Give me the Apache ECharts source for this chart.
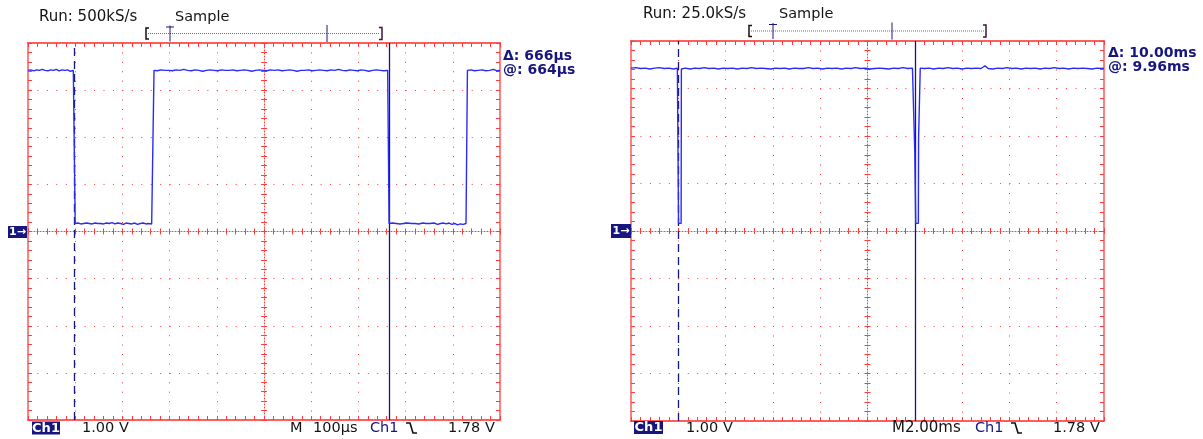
<!DOCTYPE html>
<html>
<head>
<meta charset="utf-8">
<script src="https://cdn.jsdelivr.net/npm/echarts@6/dist/echarts.min.js"></script>
<style>
  html, body { margin: 0; padding: 0; background: #ffffff; }
  #scope { width: 1203px; height: 439px; }
</style>
</head>
<body>
<div id="scope"></div>
<script>
// ---- Screen 1: 100 µs/div, 1.00 V/div (time in µs, level in V) ----
const leftTrace = [
  [0,3.42],[6,3.43],[12,3.41],[18,3.43],[24,3.42],[30,3.44],[36,3.42],[42,3.41],[48,3.43],[54,3.42],
  [60,3.44],[66,3.41],[72,3.43],[78,3.42],[84,3.43],[90,3.40],[96,3.42],[99,3.43],
  [100,0.17],[106,0.18],[112,0.16],[118,0.17],[124,0.18],[130,0.17],[136,0.16],[142,0.18],[148,0.17],
  [154,0.17],[160,0.16],[166,0.18],[172,0.17],[178,0.19],[184,0.16],[190,0.18],[196,0.17],[202,0.15],
  [208,0.18],[214,0.17],[220,0.16],[226,0.18],[232,0.15],[238,0.17],[244,0.18],[250,0.16],[256,0.17],
  [262,0.16],[266,0.17],
  [267,3.42],[274,3.41],[282,3.43],[290,3.42],[298,3.42],[306,3.41],[314,3.43],[322,3.42],[330,3.44],
  [338,3.42],[346,3.41],[354,3.43],[362,3.42],[370,3.40],[378,3.42],[386,3.43],[394,3.42],[402,3.41],
  [410,3.43],[418,3.42],[426,3.42],[434,3.43],[442,3.41],[450,3.42],[458,3.43],[466,3.42],[474,3.40],
  [482,3.42],[490,3.43],[498,3.42],[506,3.41],[514,3.43],[522,3.42],[530,3.43],[538,3.41],[546,3.42],
  [554,3.43],[562,3.42],[570,3.40],[578,3.42],[586,3.42],[594,3.43],[602,3.41],[610,3.42],[618,3.43],
  [626,3.42],[634,3.41],[642,3.43],[650,3.42],[658,3.44],[666,3.42],[674,3.41],[682,3.43],[690,3.42],
  [698,3.41],[706,3.43],[714,3.42],[722,3.40],[730,3.42],[738,3.43],[746,3.42],[754,3.41],[762,3.42],
  [764,3.42],
  [765,0.17],[772,0.18],[780,0.17],[788,0.16],[796,0.17],[804,0.18],[812,0.17],[820,0.17],[828,0.16],
  [836,0.18],[844,0.17],[852,0.17],[860,0.18],[868,0.15],[874,0.17],[880,0.18],[886,0.16],[892,0.18],
  [898,0.15],[904,0.17],[910,0.14],[916,0.16],[922,0.15],[928,0.17],[930,0.16],
  [931,3.42],[938,3.43],[946,3.41],[954,3.42],[962,3.43],[970,3.41],[978,3.42],[986,3.44],[994,3.41],
  [1000,3.42]
];
const leftCursors = [99, 765];            // µs
const leftTime = { min: 0, max: 1000, interval: 100 };
const leftHeader = ['Run: 500kS/s', 'Sample'];
const leftReadout = ['\u0394: 666\u00b5s', '@: 664\u00b5s'];
const leftFooter = ['1.00 V', 'M', '100\u00b5s', 'Ch1', '1.78 V'];

// ---- Screen 2: 2.00 ms/div, 1.00 V/div (time in ms, level in V) ----
const rightTrace = [
  [0,3.43],[0.2,3.44],[0.4,3.42],[0.6,3.43],[0.8,3.41],[1.0,3.43],[1.2,3.44],[1.4,3.42],[1.6,3.43],
  [1.8,3.41],[1.96,3.43],[2.00,3.42],
  [2.01,0.16],[2.12,0.16],
  [2.13,3.41],[2.3,3.43],[2.5,3.41],[2.7,3.43],[2.9,3.42],[3.1,3.44],[3.3,3.42],[3.5,3.43],[3.7,3.41],
  [3.9,3.43],[4.1,3.42],[4.3,3.43],[4.5,3.41],[4.7,3.43],[4.9,3.42],[5.1,3.44],[5.3,3.42],[5.5,3.43],
  [5.7,3.42],[5.9,3.41],[6.1,3.43],[6.3,3.42],[6.5,3.43],[6.7,3.41],[6.9,3.43],[7.1,3.42],[7.3,3.42],
  [7.5,3.44],[7.7,3.42],[7.9,3.43],[8.1,3.41],[8.3,3.43],[8.5,3.42],[8.7,3.43],[8.9,3.41],[9.1,3.43],
  [9.3,3.42],[9.5,3.44],[9.7,3.42],[9.9,3.43],[10.1,3.41],[10.3,3.42],[10.5,3.43],[10.7,3.42],
  [10.9,3.41],[11.1,3.43],[11.3,3.42],[11.5,3.44],[11.7,3.42],[11.9,3.43],[11.98,3.42],
  [12.00,1.65],[12.03,1.65],[12.04,0.16],[12.15,0.16],[12.16,1.96],[12.22,1.96],[12.23,3.43],
  [12.4,3.42],[12.6,3.43],[12.8,3.41],[13.0,3.43],[13.2,3.42],[13.4,3.44],[13.6,3.42],[13.8,3.43],
  [14.0,3.41],[14.2,3.43],[14.4,3.42],[14.6,3.43],[14.8,3.42],[14.97,3.48],[15.1,3.42],[15.3,3.41],
  [15.5,3.43],[15.7,3.42],[15.9,3.44],[16.1,3.42],[16.3,3.43],[16.5,3.41],[16.7,3.43],[16.9,3.42],
  [17.1,3.43],[17.3,3.41],[17.5,3.43],[17.7,3.42],[17.9,3.44],[18.1,3.42],[18.3,3.43],[18.5,3.41],
  [18.7,3.43],[18.9,3.42],[19.1,3.43],[19.3,3.42],[19.5,3.41],[19.7,3.43],[19.9,3.42],[20,3.43]
];
const rightCursors = [2.0, 12.0];         // ms
const rightTime = { min: 0, max: 20, interval: 2 };
const rightHeader = ['Run: 25.0kS/s', 'Sample'];
const rightReadout = ['\u0394: 10.00ms', '@: 9.96ms'];
const rightFooter = ['1.00 V', 'M2.00ms', 'Ch1', '1.78 V'];

// Vertical scale shared by both screens: 8 divisions of 1 V, ground at centre
const voltRange = { min: -4, max: 4, interval: 1 };

// ---- styling ----
const RED = '#ff2a2a';
const PINK = '#ff8080';
const DOT = '#ff3b3b';
const TRACE = '#2b2bf8';
const NAVY = '#16167e';
const FONT = 'DejaVu Sans';

const screens = [
  { left: 28, top: 43, width: 472, height: 377 },
  { left: 631, top: 41, width: 473, height: 380 }
];

// Graticule: border with inward minor ticks, dotted division lines, ticked centre cross
function timeAxes(gi, r, h) {
  const tick = (inside, len, color) => ({ show: true, inside: inside, length: len, lineStyle: { color: color, width: 1 } });
  const minor = (len, color) => ({ show: true, splitNumber: 5, length: len, lineStyle: { color: color, width: 1 } });
  const base = {
    gridIndex: gi, type: 'value', min: r.min, max: r.max, interval: r.interval,
    axisLabel: { show: false }, splitLine: { show: false }, z: 1
  };
  return [
    Object.assign({}, base, {
      position: 'bottom',
      axisLine: { onZero: false, lineStyle: { color: RED, width: 1.5 } },
      axisTick: tick(true, 4, DOT), minorTick: minor(4, DOT),
      splitLine: { show: true, showMinLine: false, showMaxLine: false,
        lineStyle: { color: DOT, width: 1, type: [1, h / 40 - 1] } }
    }),
    Object.assign({}, base, {
      position: 'top',
      axisLine: { onZero: false, lineStyle: { color: RED, width: 1.5 } },
      axisTick: tick(true, 4, DOT), minorTick: minor(4, DOT)
    }),
    Object.assign({}, base, {
      position: 'bottom', offset: -h / 2,
      axisLine: { onZero: false, lineStyle: { color: DOT, width: 1, type: [1, 2] } },
      axisTick: tick(true, 3, DOT), minorTick: minor(3, DOT)
    }),
    Object.assign({}, base, {
      position: 'bottom', offset: -h / 2,
      axisLine: { show: false, onZero: false },
      axisTick: tick(false, 3, DOT), minorTick: minor(3, DOT)
    })
  ];
}

function voltAxes(gi, w) {
  const tick = (inside, len) => ({ show: true, inside: inside, length: len, lineStyle: { color: DOT, width: 1 } });
  const minor = (len) => ({ show: true, splitNumber: 5, length: len, lineStyle: { color: DOT, width: 1 } });
  const base = {
    gridIndex: gi, type: 'value', min: voltRange.min, max: voltRange.max, interval: voltRange.interval,
    axisLabel: { show: false }, splitLine: { show: false }, z: 1
  };
  return [
    Object.assign({}, base, {
      position: 'left',
      axisLine: { onZero: false, lineStyle: { color: PINK, width: 2 } },
      axisTick: tick(true, 4), minorTick: minor(4),
      splitLine: { show: true, showMinLine: false, showMaxLine: false,
        lineStyle: { color: DOT, width: 1, type: [1, w / 50 - 1] } }
    }),
    Object.assign({}, base, {
      position: 'right',
      axisLine: { onZero: false, lineStyle: { color: PINK, width: 2 } },
      axisTick: tick(true, 4), minorTick: minor(4)
    }),
    Object.assign({}, base, {
      position: 'left', offset: -w / 2,
      axisLine: { onZero: false, lineStyle: { color: DOT, width: 1, type: [1, 2] } },
      axisTick: tick(true, 3), minorTick: minor(3)
    }),
    Object.assign({}, base, {
      position: 'left', offset: -w / 2,
      axisLine: { show: false, onZero: false },
      axisTick: tick(false, 3), minorTick: minor(3)
    })
  ];
}

function traceSeries(gi, data, cursors) {
  return {
    type: 'line', xAxisIndex: gi * 4, yAxisIndex: gi * 4, data: data,
    showSymbol: false, symbol: 'none', animation: false, z: 5,
    lineStyle: { color: TRACE, width: 1.4 },
    markLine: {
      silent: true, symbol: 'none', animation: false, label: { show: false },
      data: [
        { xAxis: cursors[0], lineStyle: { color: NAVY, width: 1.3, type: [8, 5] } },
        { xAxis: cursors[1], lineStyle: { color: NAVY, width: 1.3, type: 'solid' } }
      ]
    }
  };
}

// ---- on-screen annotations (x = left edge, y = vertical centre) ----
function txt(x, y, s, opt) {
  opt = opt || {};
  return {
    type: 'text', x: x, y: y, z: 20,
    style: {
      text: s, fill: opt.color || '#141414',
      align: opt.align || 'left', verticalAlign: 'middle',
      font: (opt.weight || 'normal') + ' ' + (opt.size || 14.5) + 'px "' + FONT + '"'
    }
  };
}
function poly(points, color, width, dash) {
  return { type: 'polyline', z: 20, shape: { points: points },
    style: { stroke: color, lineWidth: width || 1, fill: null, lineDash: dash || null } };
}
function badge(x, y, w, h, s, size) {
  return [
    { type: 'rect', z: 20, shape: { x: x, y: y, width: w, height: h }, style: { fill: NAVY } },
    txt(x + w / 2, y + h / 2 + 0.5, s, { color: '#ffffff', weight: 'bold', size: size || 13, align: 'center' })
  ];
}
function recordBar(x0, x1, y, trig, mark) {
  return [
    poly([[x0 + 3, y - 5.5], [x0, y - 5.5], [x0, y + 5.5], [x0 + 3, y + 5.5]], '#111111', 1.5),
    poly([[x0 + 2, y], [x1 - 2, y]], '#6464c8', 1, [1, 1]),
    poly([[x1 - 3, y - 6], [x1, y - 6], [x1, y + 6], [x1 - 3, y + 6]], '#3a1a3a', 1.5),
    poly([[trig - 4, y - 6.5], [trig + 4, y - 6.5]], NAVY, 1),
    poly([[trig, y - 8], [trig, y + 8]], NAVY, 1),
    poly([[mark, y - 8.5], [mark, y + 8.5]], NAVY, 1)
  ];
}
function slope(x, y) {
  return poly([[x, y], [x + 4, y], [x + 7, y + 10], [x + 11, y + 10]], '#111111', 1.6);
}

const graphics = [].concat(
  // screen 1
  txt(39, 17, leftHeader[0], { size: 15 }), txt(175, 17, leftHeader[1], { size: 14.5 }),
  recordBar(146, 382, 33.5, 170, 327),
  txt(503, 56, leftReadout[0], { color: NAVY, weight: 'bold', size: 14 }),
  txt(503, 70, leftReadout[1], { color: NAVY, weight: 'bold', size: 14 }),
  badge(8, 226, 19, 12, '1\u2192', 11),
  badge(32, 421.5, 28, 13, 'Ch1', 13),
  txt(82, 428, leftFooter[0]), txt(290, 428, leftFooter[1]), txt(313, 428, leftFooter[2]),
  txt(370, 428, leftFooter[3], { color: NAVY }), slope(406, 423),
  txt(448, 428, leftFooter[4]),
  // screen 2
  txt(643, 14, rightHeader[0], { size: 15 }), txt(779, 14, rightHeader[1], { size: 14.5 }),
  recordBar(749, 986, 31, 773, 892),
  txt(1108, 53, rightReadout[0], { color: NAVY, weight: 'bold', size: 14 }),
  txt(1108, 67, rightReadout[1], { color: NAVY, weight: 'bold', size: 14 }),
  badge(611, 224, 20, 14, '1\u2192', 11),
  badge(634, 421, 29, 13, 'Ch1', 13),
  txt(686, 428, rightFooter[0]), txt(892, 428, rightFooter[1], { size: 15 }),
  txt(975, 428, rightFooter[2], { color: NAVY }), slope(1011, 423),
  txt(1053, 428, rightFooter[3])
);

const chart = echarts.init(document.getElementById('scope'), null, { renderer: 'canvas' });
chart.setOption({
  animation: false,
  backgroundColor: '#ffffff',
  grid: screens.map(s => ({ left: s.left, top: s.top, width: s.width, height: s.height, containLabel: false })),
  xAxis: [].concat(timeAxes(0, leftTime, screens[0].height), timeAxes(1, rightTime, screens[1].height)),
  yAxis: [].concat(voltAxes(0, screens[0].width), voltAxes(1, screens[1].width)),
  series: [
    traceSeries(0, leftTrace, leftCursors),
    traceSeries(1, rightTrace, rightCursors)
  ],
  graphic: graphics
});
</script>
</body>
</html>
